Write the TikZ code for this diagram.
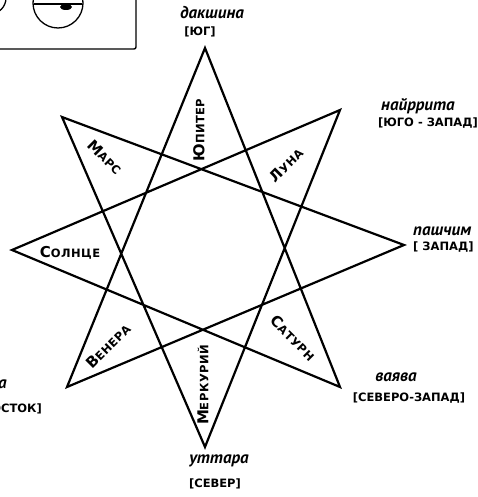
\documentclass[tikz,border=0pt]{standalone}
\usepackage{fontspec}
\setmainfont{DejaVu Sans}
\newfontfamily\cursive{PT Sans}
\newfontfamily\planetfont{DejaVu Sans}[LetterSpace=4]

% first letter large, the rest as small capitals
\newcommand\pn[2]{#1{\fontsize{11.5}{12}\selectfont #2}}

\tikzset{
  starline/.style={line width=2.2pt, line join=miter},
  planet/.style={inner sep=0pt, font=\planetfont\bfseries\fontsize{15}{15}\selectfont},
  dirword/.style={inner sep=0pt, font=\cursive\bfseries\itshape\fontsize{17}{17}\selectfont},
  dirname/.style={inner sep=0pt, font=\bfseries\fontsize{11.5}{11.5}\selectfont},
}

\begin{document}
\begin{tikzpicture}[x=1pt, y=-1pt]
  \clip (0,0) rectangle (478,497);
  % piece of the neighbouring figure
  \draw[line width=1.4pt, rounded corners=2pt] (-10,-10) rectangle (136,49);
  \draw[line width=1.3pt] (58,3) circle (25);
  \draw[line width=1.3pt] (34,4) -- (82,4);
  \fill (66,7) ellipse (6 and 3);
  \draw[line width=1.3pt] (-10,-2) circle (16);
  % star vertices
  \coordinate (yug)      at (205,48);
  \coordinate (yugzap)   at (340,110);
  \coordinate (zap)      at (404,245);
  \coordinate (sevzap)   at (340,387);
  \coordinate (sev)      at (205,447);
  \coordinate (sevvost)  at (67,387);
  \coordinate (vost)     at (12,250);
  \coordinate (yugvost)  at (62,117);
  \draw[starline] (yug) -- (sevzap) -- (vost) -- (yugzap) -- (sev)
    -- (yugvost) -- (zap) -- (sevvost) -- cycle;
  % planets
  \node[planet, rotate=90]  (jupiter) at (199,130) {\pn{Ю}{ПИТЕР}};
  \node[planet, rotate=45]  (luna)    at (286,165) {\pn{Л}{УНА}};
  \node[planet, rotate=-45] (saturn)  at (293,338) {\pn{С}{АТУРН}};
  \node[planet, rotate=90]  (merkury) at (203,385) {\pn{М}{ЕРКУРИЙ}};
  \node[planet, rotate=45]  (venera)  at (108,346) {\pn{В}{ЕНЕРА}};
  \node[planet]             (solnce)  at (70,253)  {\pn{С}{ОЛНЦЕ}};
  \node[planet, rotate=-45] (mars)    at (105,157) {\pn{М}{АРС}};
  % directions
  \node[dirword] (dakshina) at (212,13)  {дакшина};
  \node[dirname] (yuglbl)   at (200,32)  {[ЮГ]};
  \node[dirword] (nairrita) at (418,106) {найррита};
  \node[dirname] (yzlbl)    at (428,123) {[ЮГО - ЗАПАД]};
  \node[dirword, anchor=west] (pashchim) at (413,231) {пашчим};
  \node[dirname, anchor=west] (zaplbl)   at (413,247) {[ ЗАПАД]};
  \node[dirword] (vayava)   at (396,377) {ваява};
  \node[dirname] (szlbl)    at (409,398) {[СЕВЕРО-ЗАПАД]};
  \node[dirword] (uttara)   at (219,461) {уттара};
  \node[dirname] (sevlbl)   at (215,484) {[СЕВЕР]};
  \node[dirword, anchor=east] (ishana) at (7,384)  {ишана};
  \node[dirname, anchor=east] (svlbl)  at (42,409) {[СЕВЕРО-ВОСТОК]};
\end{tikzpicture}
\end{document}
